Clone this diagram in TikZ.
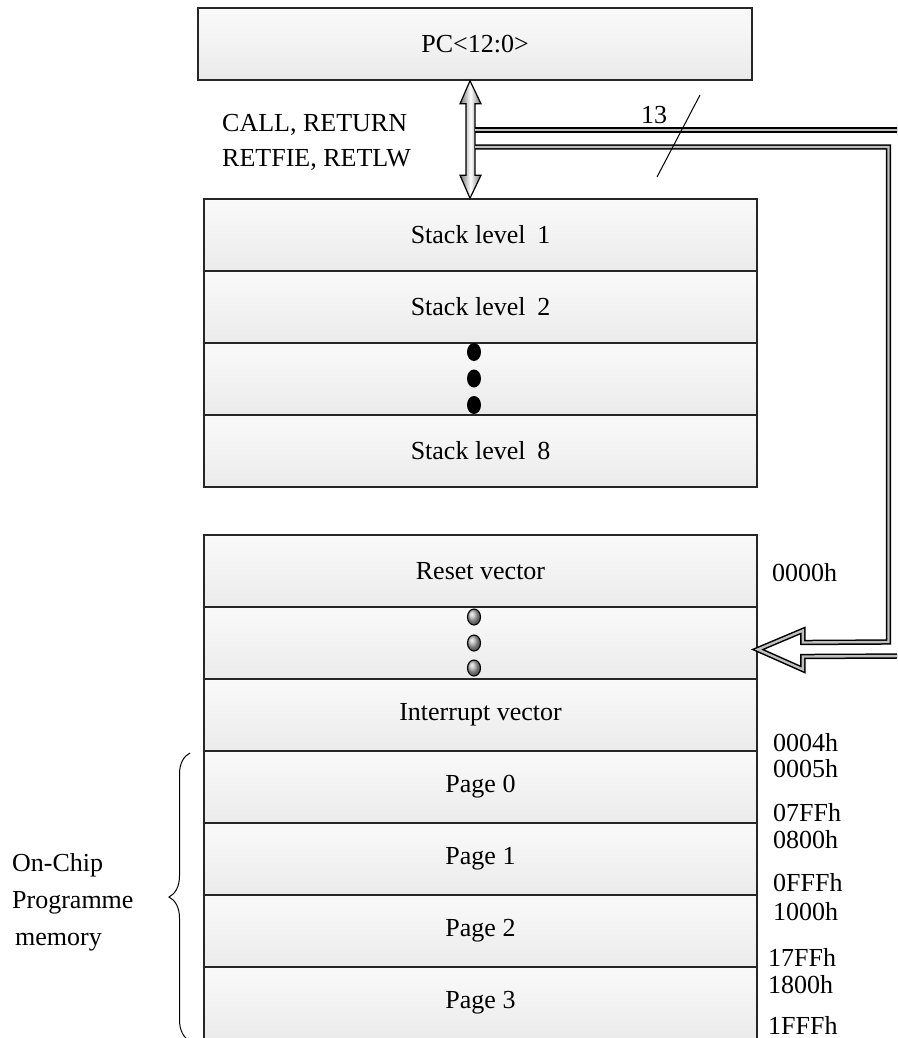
\documentclass[tikz,border=0pt]{standalone}
\usepackage{fontspec}
\setmainfont{Liberation Serif}
\usetikzlibrary{calc,decorations.pathreplacing}
\begin{document}
\begin{tikzpicture}[x=1pt,y=-1pt,
  fs/.style={font=\fontsize{26}{35}\selectfont},
  cell/.style={draw=black!85, line width=1.6pt, minimum width=553pt, minimum height=72pt,
    inner sep=0pt, top color=white!98!black, bottom color=white!92!black, fs},
  lbl/.style={fs, anchor=west, inner sep=0pt},
  bus/.style={draw=black, line width=1.5pt, double=gray!50, double distance=2.4pt, line join=miter},
  bigdot/.style={fill=black},
  smalldot/.style={ball color=gray!60, draw=black, line width=1.1pt}]
\clip (0,0) rectangle (897,1038);
\fill[white] (0,0) rectangle (897,1038);

% PC register
\node[cell, minimum width=554pt] (pc) at (475,44) {PC<12:0>};

% stack
\node[cell] (s1) at (480.5,235) {Stack level\hspace{0.45em}1};
\node[cell] (s2) at (480.5,307) {Stack level\hspace{0.45em}2};
\node[cell] (sd) at (480.5,379) {};
\node[cell] (s8) at (480.5,451) {Stack level\hspace{0.45em}8};
\fill[bigdot] (474,352) ellipse [x radius=7pt, y radius=9pt];
\fill[bigdot] (474,378.5) ellipse [x radius=7pt, y radius=9pt];
\fill[bigdot] (474,405) ellipse [x radius=7pt, y radius=9pt];

% program memory
\node[cell] (rv) at (480.5,571) {Reset vector};
\node[cell] (md) at (480.5,643) {};
\node[cell] (iv) at (480.5,715) {Interrupt vector};
\node[cell] (p0) at (480.5,787) {Page 0};
\node[cell] (p1) at (480.5,859) {Page 1};
\node[cell] (p2) at (480.5,931) {Page 2};
\node[cell] (p3) at (480.5,1003) {Page 3};
\shadedraw[smalldot] (474,617) ellipse [x radius=6.5pt, y radius=8pt];
\shadedraw[smalldot] (474,643) ellipse [x radius=6.5pt, y radius=8pt];
\shadedraw[smalldot] (474,668) ellipse [x radius=6.5pt, y radius=8pt];

% double arrow PC <-> stack
\coordinate (ax) at (470,0);
\coordinate (T) at (pc.south -| ax);
\coordinate (B) at (s1.north -| ax);
\shadedraw[left color=black!55, right color=black!55, middle color=white, draw=black, line width=1.2pt, line join=miter]
  (T) -- ++(11,23) -- ++(-6,0) -- ($(B)+(5,-23)$) -- ++(6,0) -- (B) -- ++(-10,-23) -- ++(6,0)
  -- ($(T)+(-4,23)$) -- ++(-6,0) -- cycle;

% bus
\coordinate (busU) at (475,130);
\coordinate (busL) at (475,147);
\coordinate (tip) at ($(md.east)+(0,6.5)$);
\coordinate (outU) at (905,130);
\coordinate (outL) at (905,656);
\fill[white] ($(tip)+(45,-7)$) -- ++(0,-12) -- (tip) -- ++(45,20) -- ++(0,-13) -- cycle;
\draw[bus] (busU) -- (outU);
\draw[bus] (busL) -- (888.5,147) -- (888.5,642) -- ($(tip)+(45,-7)$) -- ++(0,-12) -- (tip)
  -- ++(45,20) -- ++(0,-13) -- (outL);

% bus width mark
\coordinate (m1) at (700,95);
\coordinate (m2) at (657,177);
\draw[line width=1pt] (m1) -- (m2);
\node[fs, inner sep=0pt] (n13) at (654,115) {13};

% instruction labels
\node[lbl, align=left] (ops) at (222,142.5) {CALL, RETURN\\RETFIE, RETLW};

% addresses
\node[lbl] (a0) at (772,573) {0000h};
\node[lbl] (a4) at (773,743) {0004h};
\node[lbl] (a5) at (773,769) {0005h};
\node[lbl] (a7ff) at (773,813) {07FFh};
\node[lbl] (a800) at (773,840) {0800h};
\node[lbl] (afff) at (773,883) {0FFFh};
\node[lbl] (a1000) at (773,912) {1000h};
\node[lbl] (a17ff) at (768,957) {17FFh};
\node[lbl] (a1800) at (768,985) {1800h};
\node[lbl] (a1fff) at (768,1025) {1FFFh};

% on-chip brace
\coordinate (br1) at (190,1041);
\coordinate (br2) at (190,753);
\draw[decorate, decoration={brace, amplitude=21pt}, line width=1pt] (br1) -- (br2);
\node[lbl, align=left, font=\fontsize{26}{37}\selectfont] (ocm) at (12,902) {On-Chip\\Programme\\\hspace{3pt}memory};
\end{tikzpicture}
\end{document}
